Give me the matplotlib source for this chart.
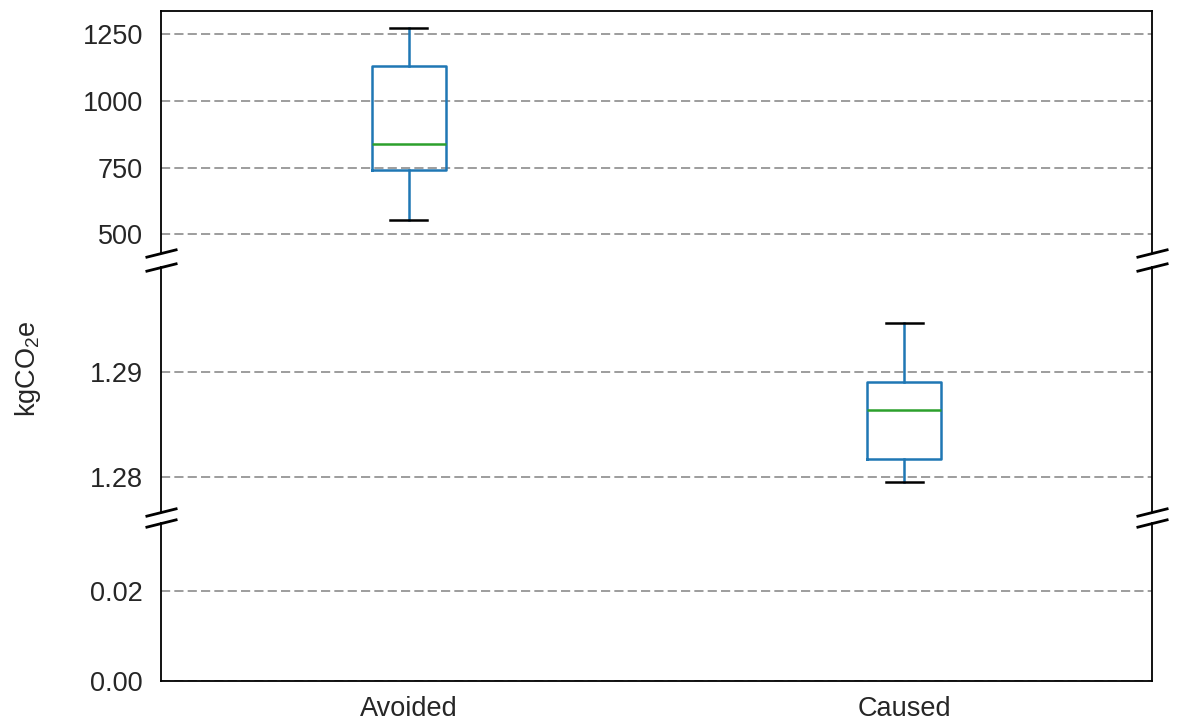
import numpy as np
import matplotlib.pyplot as plt

plt.rcParams['font.family'] = ['Liberation Sans', 'DejaVu Sans']
plt.rcParams['mathtext.default'] = 'regular'

# box statistics
categories = ["Avoided", "Caused"]
whislo = [553.6, 1.27953]
q1 = [740.0, 1.28175]
med = [838.0, 1.28642]
q3 = [1131.0, 1.28908]
whishi = [1272.5, 1.29468]

# y ranges of the three broken panels (top, middle, bottom)
ylims = [(430, 1337), (1.2767, 1.3000), (0.0, 0.035)]
yticks = [[500, 750, 1000, 1250], [1.28, 1.29], [0.00, 0.02]]
ytick_labels = [["500", "750", "1000", "1250"], ["1.28", "1.29"], ["0.00", "0.02"]]

stats = []
for i in range(len(categories)):
    stats.append(dict(label=categories[i], whislo=whislo[i], q1=q1[i], med=med[i],
                      q3=q3[i], whishi=whishi[i], fliers=[]))

fig = plt.figure(figsize=(11.77, 7.22), dpi=100)
W, H = 1177, 722
left, right = 161, 1152
panels_px = [(11, 253), (267, 512), (523, 681)]  # top / bottom pixel rows of each panel

axes = []
for (t, b) in panels_px:
    ax = fig.add_axes([left / W, 1 - b / H, (right - left) / W, (b - t) / H])
    axes.append(ax)

blue = '#1f77b4'
fs = 19.5
for k, ax in enumerate(axes):
    ax.bxp(stats, positions=[1, 2], widths=0.15, showfliers=False,
           boxprops=dict(color=blue, linewidth=1.8),
           whiskerprops=dict(color=blue, linewidth=1.8),
           capprops=dict(color='k', linewidth=1.8),
           medianprops=dict(color='#2ca02c', linewidth=1.8))
    ax.set_xlim(0.5, 2.5)
    ax.set_ylim(*ylims[k])
    ax.set_yticks(yticks[k])
    ax.set_yticklabels(ytick_labels[k])
    ax.yaxis.grid(True, linestyle=(0, (5.5, 2.5)), color='#8c8c8c', linewidth=1.2)
    ax.xaxis.grid(False)
    ax.set_axisbelow(True)
    ax.tick_params(axis='y', length=0, pad=13, labelsize=fs, colors='#262626')
    ax.tick_params(axis='x', length=0, pad=10.5, labelsize=fs, colors='#262626')
    for s in ax.spines.values():
        s.set_linewidth(1.3)
        s.set_color('k')
    if k < 2:
        ax.set_xticks([])
        ax.spines['bottom'].set_visible(False)
    if k > 0:
        ax.spines['top'].set_visible(False)

axes[2].set_xticks([1, 2])
axes[2].set_xticklabels(categories)
axes[1].set_ylabel('kgCO$_2$e', fontsize=fs, color='#262626')
axes[1].yaxis.set_label_coords(-0.119, 0.584)

# break marks
d = 0.25
kw = dict(marker=[(-1, -d), (1, d)], markersize=23, linestyle='none',
          color='k', mec='k', mew=2, clip_on=False)
axes[0].plot([0, 1], [0, 0], transform=axes[0].transAxes, **kw)
axes[1].plot([0, 1], [1, 1], transform=axes[1].transAxes, **kw)
axes[1].plot([0, 1], [0, 0], transform=axes[1].transAxes, **kw)
axes[2].plot([0, 1], [1, 1], transform=axes[2].transAxes, **kw)

fig.savefig('out.png', dpi=100)
